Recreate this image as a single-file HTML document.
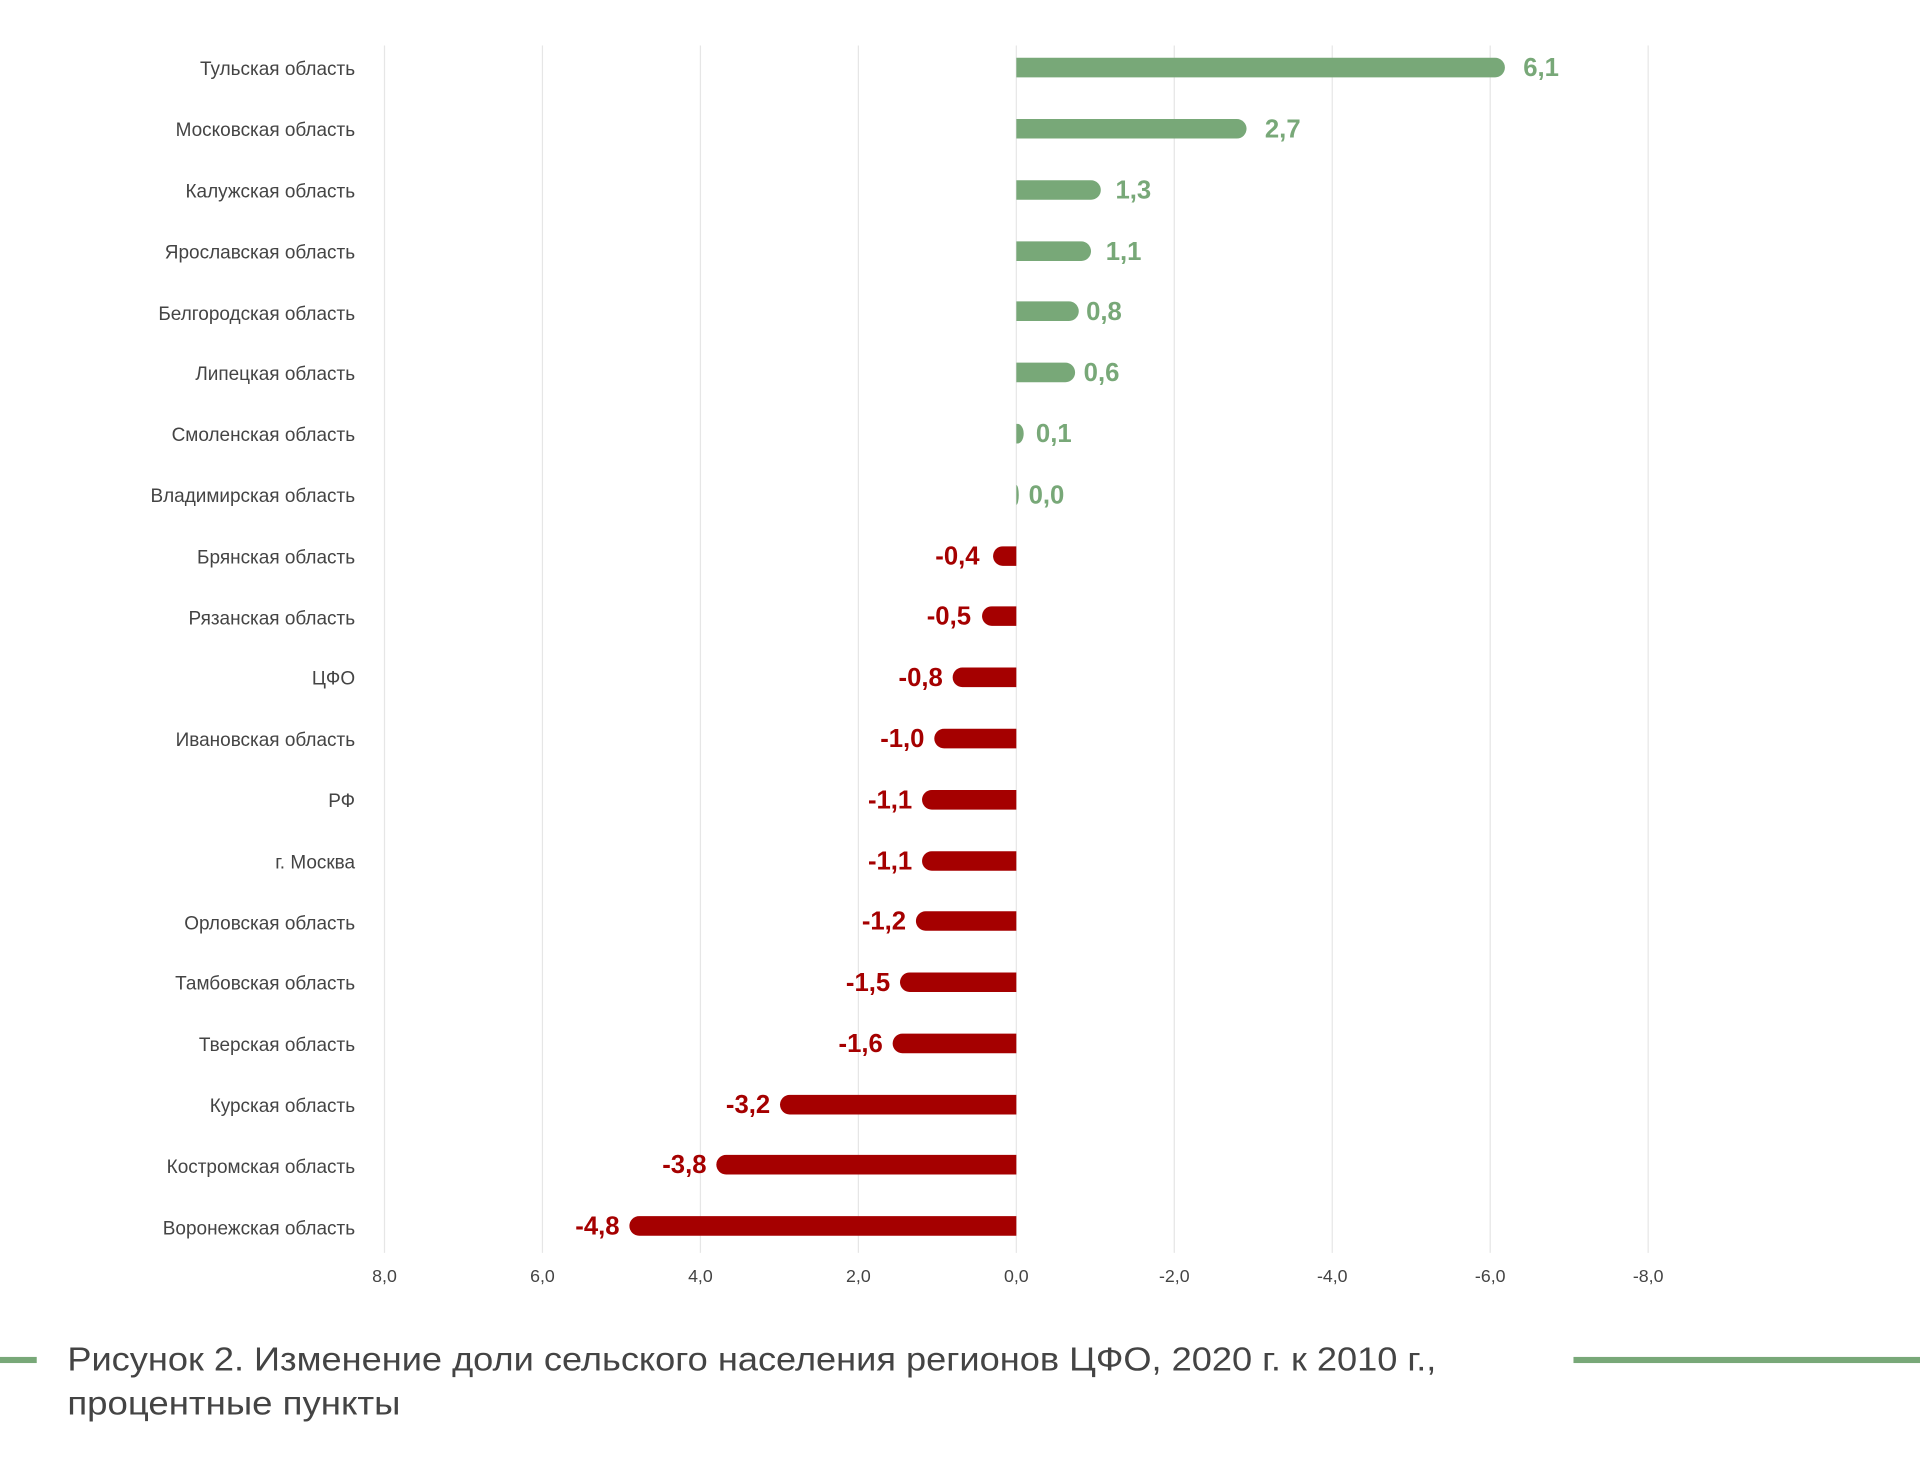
<!DOCTYPE html>
<html><head><meta charset="utf-8"><style>
html,body{margin:0;padding:0;background:#fff;}
svg{display:block;}
text{font-family:"Liberation Sans",sans-serif;}
</style></head><body>
<svg width="1920" height="1471" viewBox="0 0 1568 1201" xmlns="http://www.w3.org/2000/svg">
<g stroke="#e6e6e6" stroke-width="1">
<line x1="314" y1="37" x2="314" y2="1023"/><line x1="443" y1="37" x2="443" y2="1023"/>
<line x1="572" y1="37" x2="572" y2="1023"/><line x1="701" y1="37" x2="701" y2="1023"/>
<line x1="830" y1="37" x2="830" y2="1023"/><line x1="959" y1="37" x2="959" y2="1023"/>
<line x1="1088" y1="37" x2="1088" y2="1023"/><line x1="1217" y1="37" x2="1217" y2="1023"/>
<line x1="1346" y1="37" x2="1346" y2="1023"/>
</g>
<g font-size="14.5" fill="#444" text-anchor="middle">
<text x="314" y="1047">8,0</text><text x="443" y="1047">6,0</text><text x="572" y="1047">4,0</text>
<text x="701" y="1047">2,0</text><text x="830" y="1047">0,0</text><text x="959" y="1047">-2,0</text>
<text x="1088" y="1047">-4,0</text><text x="1217" y="1047">-6,0</text><text x="1346" y="1047">-8,0</text>
</g>
<rect x="0" y="1108" width="30" height="5" fill="#78a878"/>
<rect x="1285" y="1108" width="283" height="5" fill="#78a878"/>
<text x="55" y="1119" font-size="27" fill="#444" textLength="1118" lengthAdjust="spacingAndGlyphs">Рисунок 2. Изменение доли сельского населения регионов ЦФО, 2020 г. к 2010 г.,</text>
<text x="55" y="1155" font-size="27" fill="#444" textLength="272" lengthAdjust="spacingAndGlyphs">процентные пункты</text>
<g font-size="15.5" fill="#444" text-anchor="end">
<text x="290" y="61">Тульская область</text>
<text x="290" y="111">Московская область</text>
<text x="290" y="161">Калужская область</text>
<text x="290" y="211">Ярославская область</text>
<text x="290" y="261">Белгородская область</text>
<text x="290" y="310">Липецкая область</text>
<text x="290" y="360">Смоленская область</text>
<text x="290" y="410">Владимирская область</text>
<text x="290" y="460">Брянская область</text>
<text x="290" y="510">Рязанская область</text>
<text x="290" y="559">ЦФО</text>
<text x="290" y="609">Ивановская область</text>
<text x="290" y="659">РФ</text>
<text x="290" y="709">г. Москва</text>
<text x="290" y="759">Орловская область</text>
<text x="290" y="808">Тамбовская область</text>
<text x="290" y="858">Тверская область</text>
<text x="290" y="908">Курская область</text>
<text x="290" y="958">Костромская область</text>
<text x="290" y="1008">Воронежская область</text>
</g>
<g font-size="21" font-weight="bold">
<path d="M830 47H1221a8 8 0 0 1 0 16H830Z" fill="#78a878"/><text x="1244" y="62" fill="#78a878">6,1</text>
<path d="M830 97H1010a8 8 0 0 1 0 16H830Z" fill="#78a878"/><text x="1033" y="112" fill="#78a878">2,7</text>
<path d="M830 147H891a8 8 0 0 1 0 16H830Z" fill="#78a878"/><text x="911" y="162" fill="#78a878">1,3</text>
<path d="M830 197H883a8 8 0 0 1 0 16H830Z" fill="#78a878"/><text x="903" y="212" fill="#78a878">1,1</text>
<path d="M830 246H873a8 8 0 0 1 0 16H830Z" fill="#78a878"/><text x="887" y="261" fill="#78a878">0,8</text>
<path d="M830 296H870a8 8 0 0 1 0 16H830Z" fill="#78a878"/><text x="885" y="311" fill="#78a878">0,6</text>
<path d="M830 346h1a5 8 0 0 1 0 16h-1Z" fill="#78a878"/><text x="846" y="361" fill="#78a878">0,1</text>
<path d="M830 396a2 8 0 0 1 0 16Z" fill="#78a878"/><text x="840" y="411" fill="#78a878">0,0</text>
<g fill="#a50000">
<path d="M830 446H819a8 8 0 0 0 0 16H830Z"/><text x="800" y="461" text-anchor="end">-0,4</text>
<path d="M830 495H810a8 8 0 0 0 0 16H830Z"/><text x="793" y="510" text-anchor="end">-0,5</text>
<path d="M830 545H786a8 8 0 0 0 0 16H830Z"/><text x="770" y="560" text-anchor="end">-0,8</text>
<path d="M830 595H771a8 8 0 0 0 0 16H830Z"/><text x="755" y="610" text-anchor="end">-1,0</text>
<path d="M830 645H761a8 8 0 0 0 0 16H830Z"/><text x="745" y="660" text-anchor="end">-1,1</text>
<path d="M830 695H761a8 8 0 0 0 0 16H830Z"/><text x="745" y="710" text-anchor="end">-1,1</text>
<path d="M830 744H756a8 8 0 0 0 0 16H830Z"/><text x="740" y="759" text-anchor="end">-1,2</text>
<path d="M830 794H743a8 8 0 0 0 0 16H830Z"/><text x="727" y="809" text-anchor="end">-1,5</text>
<path d="M830 844H737a8 8 0 0 0 0 16H830Z"/><text x="721" y="859" text-anchor="end">-1,6</text>
<path d="M830 894H645a8 8 0 0 0 0 16H830Z"/><text x="629" y="909" text-anchor="end">-3,2</text>
<path d="M830 943H593a8 8 0 0 0 0 16H830Z"/><text x="577" y="958" text-anchor="end">-3,8</text>
<path d="M830 993H522a8 8 0 0 0 0 16H830Z"/><text x="506" y="1008" text-anchor="end">-4,8</text>
</g>
</g>
</svg>
</body></html>
